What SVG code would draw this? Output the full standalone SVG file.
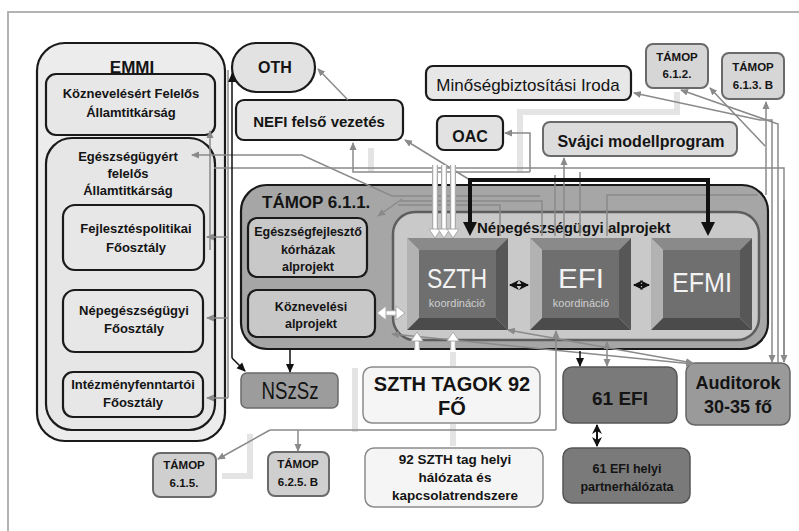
<svg xmlns="http://www.w3.org/2000/svg" width="799" height="531" viewBox="0 0 799 531">
<defs>
<style>
text{font-family:"Liberation Sans",Arial,sans-serif;fill:#141414;text-anchor:middle}
.b{font-weight:bold}
.box{stroke:#1a1a1a;stroke-width:2.2}
.lbox{fill:#e7e7e7}
.gb{stroke:#6a6a6a;stroke-width:2}
.g{fill:none;stroke:#8a8a8a;stroke-width:1.5}
.ga{fill:none;stroke:#8a8a8a;stroke-width:1.5;marker-end:url(#ga)}
.gaa{fill:none;stroke:#8a8a8a;stroke-width:1.5;marker-end:url(#ga);marker-start:url(#ga)}
.k{fill:none;stroke:#111;stroke-width:1.5;marker-end:url(#ka)}
.kk{fill:none;stroke:#111;stroke-width:2;marker-end:url(#ka2);marker-start:url(#ka2)}
.wl{fill:none;stroke:#e4e4e4;stroke-width:6}
.wo{fill:none;stroke:#aaa;stroke-width:6}
.wi{fill:none;stroke:#fff;stroke-width:3.5}
.btnt{fill:#f2f2f2;font-size:28px}
.ko{fill:#cfcfcf;font-size:11px}
</style>
<marker id="ga" markerUnits="userSpaceOnUse" markerWidth="8" markerHeight="8" refX="7" refY="4" orient="auto-start-reverse"><path d="M0,0.5 L8,4 L0,7.5 z" fill="#8a8a8a"/></marker>
<marker id="ka" markerUnits="userSpaceOnUse" markerWidth="9" markerHeight="9" refX="8" refY="4.5" orient="auto-start-reverse"><path d="M0,0.5 L9,4.5 L0,8.5 z" fill="#111"/></marker>
<marker id="ka2" markerUnits="userSpaceOnUse" markerWidth="10" markerHeight="10" refX="9" refY="5" orient="auto-start-reverse"><path d="M0,0 L10,5 L0,10 L3,5 z" fill="#111"/></marker>
<marker id="kt" markerUnits="userSpaceOnUse" markerWidth="14" markerHeight="14" refX="10" refY="7" orient="auto-start-reverse"><path d="M0,0 L14,7 L0,14 z" fill="#111"/></marker>
<symbol id="btn" viewBox="0 0 101 92" width="101" height="92">
<polygon points="0,0 101,0 89,12 12,12" fill="#8a8a8a"/>
<polygon points="0,0 12,12 12,80 0,92" fill="#b2b2b2"/>
<polygon points="101,0 101,92 89,80 89,12" fill="#575757"/>
<polygon points="0,92 12,80 89,80 101,92" fill="#4b4b4b"/>
<rect x="12" y="12" width="77" height="68" fill="#6f6f6f"/>
</symbol>
</defs>
<rect x="0" y="0" width="799" height="531" fill="#fff"/>
<rect x="8" y="12" width="800" height="530" fill="#fff" stroke="#b4b4b4" stroke-width="2"/>

<g id="emmi">
<rect x="37" y="43" width="188" height="398" rx="28" fill="#ececec" class="box"/>
<rect x="46" y="138" width="169" height="292" rx="26" fill="#e6e6e6" class="box"/>
<text x="132" y="73" class="b" font-size="17">EMMI</text>
<text x="128" y="161" class="b" font-size="13">Egészségügyért</text>
<text x="128" y="178" class="b" font-size="13">felelős</text>
<text x="128" y="195" class="b" font-size="13">Államtitkárság</text>
</g>
<g id="koznevelesert">
<rect x="46" y="74" width="169" height="61" rx="10" class="box lbox"/>
<text x="131" y="98" class="b" font-size="13">Köznevelésért Felelős</text>
<text x="131" y="117" class="b" font-size="13">Államtitkárság</text>
</g>
<g id="fejlesztes">
<rect x="63" y="205" width="141" height="65" rx="12" class="box lbox"/>
<text x="136" y="233" class="b" font-size="13">Fejlesztéspolitikai</text>
<text x="136" y="252" class="b" font-size="13">Főosztály</text>
</g>
<g id="nepegeszseg-fo">
<rect x="63" y="290" width="140" height="62" rx="12" class="box lbox"/>
<text x="134" y="315" class="b" font-size="13">Népegészségügyi</text>
<text x="134" y="333" class="b" font-size="13">Főosztály</text>
</g>
<g id="intezmeny">
<rect x="63" y="372" width="140" height="45" rx="10" class="box lbox"/>
<text x="133" y="389" class="b" font-size="13">Intézményfenntartói</text>
<text x="133" y="407" class="b" font-size="13">Főosztály</text>
</g>
<g id="oth">
<rect x="232" y="43" width="83" height="49" rx="24.5" fill="#e2e2e2" class="box"/>
<text x="275" y="73" class="b" font-size="16">OTH</text>
</g>
<g id="nefi">
<rect x="236" y="100" width="167" height="40" rx="8" class="box lbox"/>
<text x="319" y="127" class="b" font-size="15">NEFI felső vezetés</text>
</g>
<g id="minoseg">
<rect x="426" y="66" width="205" height="34" rx="7" class="box lbox"/>
<text x="528" y="91" font-size="17">Minőségbiztosítási Iroda</text>
</g>
<g id="oac">
<rect x="437" y="116" width="66" height="34" rx="7" fill="#e2e2e2" class="box"/>
<text x="470" y="142" class="b" font-size="16">OAC</text>
</g>
<g id="svajci">
<rect x="543" y="122" width="194" height="34" rx="7" fill="#dcdcdc" class="gb"/>
<text x="641" y="147" class="b" font-size="16">Svájci modellprogram</text>
</g>
<g id="tamop612">
<rect x="646" y="44" width="62" height="44" rx="7" fill="#d6d6d6" class="gb"/>
<text x="677" y="61" class="b" font-size="11.5">TÁMOP</text>
<text x="677" y="78" class="b" font-size="11.5">6.1.2.</text>
</g>
<g id="tamop613b">
<rect x="722" y="53" width="62" height="46" rx="7" fill="#d6d6d6" class="gb"/>
<text x="753" y="71" class="b" font-size="11.5">TÁMOP</text>
<text x="753" y="89" class="b" font-size="11.5">6.1.3. B</text>
</g>
<g id="tamop611">
<rect x="241" y="185" width="527" height="164" rx="26" fill="#a6a6a6" class="box"/>
<text x="262" y="208" class="b" font-size="17" style="text-anchor:start">TÁMOP 6.1.1.</text>
</g>
<g id="nepegeszseg-alprojekt">
<rect x="393" y="212" width="366" height="128" rx="22" fill="#c9c9c9" stroke="#5e5e5e" stroke-width="2.5"/>
<text x="477" y="233" class="b" font-size="15" style="text-anchor:start">Népegészségügyi alprojekt</text>
</g>
<g id="egeszsegfejleszto">
<rect x="248" y="218" width="119" height="59" rx="9" fill="#c8c8c8" class="box"/>
<text x="308" y="236" class="b" font-size="12.5">Egészségfejlesztő</text>
<text x="308" y="254" class="b" font-size="12.5">kórházak</text>
<text x="308" y="271" class="b" font-size="12.5">alprojekt</text>
</g>
<g id="koznevelesi">
<rect x="248" y="290" width="127" height="47" rx="9" fill="#c8c8c8" class="box"/>
<text x="311" y="311" class="b" font-size="12.5">Köznevelési</text>
<text x="311" y="328" class="b" font-size="12.5">alprojekt</text>
</g>
<g id="szth">
<use href="#btn" x="407" y="238"/>
<text x="457" y="288" class="btnt" textLength="60" lengthAdjust="spacingAndGlyphs">SZTH</text>
<text x="457" y="307" class="ko">koordináció</text>
</g>
<g id="efi">
<use href="#btn" x="530" y="238"/>
<text x="581" y="288" class="btnt" textLength="46" lengthAdjust="spacingAndGlyphs">EFI</text>
<text x="581" y="307" class="ko">koordináció</text>
</g>
<g id="efmi">
<use href="#btn" x="651" y="238"/>
<text x="702" y="292" class="btnt" textLength="60" lengthAdjust="spacingAndGlyphs">EFMI</text>
</g>
<g id="nszsz">
<rect x="241" y="373" width="97" height="35" rx="6" fill="#9c9c9c" stroke="#6a6a6a" stroke-width="1.5"/>
<text x="290" y="399" font-size="24" textLength="57" lengthAdjust="spacingAndGlyphs">NSzSz</text>
</g>
<g id="szth-tagok">
<rect x="363" y="367" width="177" height="56" rx="9" fill="#f5f5f5" stroke="#8a8a8a" stroke-width="1.5"/>
<text x="452" y="391" class="b" font-size="20">SZTH TAGOK 92</text>
<text x="452" y="415" class="b" font-size="20">FŐ</text>
</g>
<g id="efi61">
<rect x="563" y="367" width="114" height="56" rx="9" fill="#7a7a7a" stroke="#555" stroke-width="1.5"/>
<text x="620" y="405" class="b" font-size="19">61 EFI</text>
</g>
<g id="auditorok">
<rect x="686" y="363" width="104" height="62" rx="9" fill="#9a9a9a" stroke="#666" stroke-width="1.5"/>
<text x="738" y="389" class="b" font-size="18">Auditorok</text>
<text x="738" y="413" class="b" font-size="18">30-35 fő</text>
</g>
<g id="szth-halozat">
<rect x="365" y="448" width="178" height="59" rx="9" fill="#f5f5f5" stroke="#8a8a8a" stroke-width="1.5"/>
<text x="455" y="464" class="b" font-size="13.5">92 SZTH tag helyi</text>
<text x="455" y="482" class="b" font-size="13.5">hálózata és</text>
<text x="455" y="500" class="b" font-size="13.5">kapcsolatrendszere</text>
</g>
<g id="efi-partner">
<rect x="563" y="448" width="127" height="55" rx="9" fill="#7a7a7a" stroke="#555" stroke-width="1.5"/>
<text x="627" y="473" class="b" font-size="12.5">61 EFI helyi</text>
<text x="627" y="491" class="b" font-size="12.5">partnerhálózata</text>
</g>
<g id="tamop615">
<rect x="153" y="453" width="63" height="44" rx="7" fill="#cfcfcf" class="gb"/>
<text x="184" y="469" class="b" font-size="11.5">TÁMOP</text>
<text x="184" y="487" class="b" font-size="11.5">6.1.5.</text>
</g>
<g id="tamop625b">
<rect x="268" y="452" width="61" height="44" rx="7" fill="#cfcfcf" class="gb"/>
<text x="298" y="468" class="b" font-size="11.5">TÁMOP</text>
<text x="298" y="486" class="b" font-size="11.5">6.2.5. B</text>
</g>

<g id="connectors">
<path class="wl" d="M520,172 V112 H677 V92"/>
<path class="wl" d="M371,172 V148"/>
<path class="wl" d="M453,352 V366 M453,424 V446"/>
<path class="wl" d="M355,368 V432 M222,476 H250 V434"/>
<path class="g" d="M228,70 V398"/>
<path class="ga" d="M228,237 H207"/>
<path class="ga" d="M228,318 H207"/>
<path class="ga" d="M228,398 H207"/>
<path class="ga" d="M210,250 V131" stroke="#b0b0b0"/>
<path class="ga" d="M348,100 L318,69"/>
<path class="ga" d="M540,196 H392 L302,155 H192"/>
<path class="ga" d="M402,199 L378,216"/>
<path class="g" d="M214,168 H784 V362"/>
<path class="ga" d="M784,200 V362"/>
<path class="gaa" d="M772,362 V120 H760 L634,93"/>
<path class="ga" d="M778,362 V124 L681,90"/>
<path class="ga" d="M765,146 L710,88"/>
<path class="ga" d="M766,195 V102"/>
<path class="ga" d="M530,172 H353 V143"/>
<path class="ga" d="M530,172 V133 H505"/>
<path class="ga" d="M470,180 L405,140"/>
<path class="ga" d="M564,238 V158"/>
<path class="g" d="M400,201 H542 V236"/>
<path class="g" d="M555,175 V236"/>
<path class="g" d="M580,172 V236"/>
<path class="g" d="M607,236 V195 H758"/>
<path class="g" d="M398,205 H500 V236"/>
<path class="gaa" d="M508,330 L693,363"/>
<path class="gaa" d="M392,334 L693,364"/>
<path class="ga" d="M556,430 V331"/>
<path class="g" d="M270,430 H556"/>
<path class="ga" d="M298,430 V451"/>
<path class="ga" d="M270,430 L218,459"/>
<path class="gaa" d="M607,342 V366"/>
<path class="wo" d="M435,165 V232 M444,165 V232 M453,165 V232"/>
<path class="wi" d="M435,165 V232 M444,165 V232 M453,165 V232"/>
<polygon points="429,229 441,229 435,238" fill="#fff" stroke="#aaa"/>
<polygon points="438,229 450,229 444,238" fill="#fff" stroke="#aaa"/>
<polygon points="447,229 459,229 453,238" fill="#fff" stroke="#aaa"/>
<path class="wo" d="M384,313 H397"/>
<path class="wi" d="M382,313 H399"/>
<polygon points="386,306 386,320 377,313" fill="#fff" stroke="#aaa"/>
<polygon points="396,306 396,320 405,313" fill="#fff" stroke="#aaa"/>
<path class="wo" d="M417,350 V339 M453,350 V339"/>
<path class="wi" d="M417,351 V338 M453,351 V338"/>
<polygon points="411,341 423,341 417,332" fill="#fff" stroke="#aaa"/>
<polygon points="447,341 459,341 453,332" fill="#fff" stroke="#aaa"/>
<path class="k" d="M232,358 L245,371"/>
<path fill="none" stroke="#111" stroke-width="1.5" d="M232,358 V74" marker-end="url(#ka)"/>
<path class="k" d="M290,349 V372"/>
<path fill="none" stroke="#111" stroke-width="4" d="M470,232 V180 H708 V232" marker-start="url(#kt)" marker-end="url(#kt)"/>
<path class="kk" d="M510,285 H528"/>
<path class="kk" d="M634,285 H649"/>
<path class="k" d="M580,351 V366"/>
<path class="kk" d="M597,425 V446"/>
</g>
</svg>
